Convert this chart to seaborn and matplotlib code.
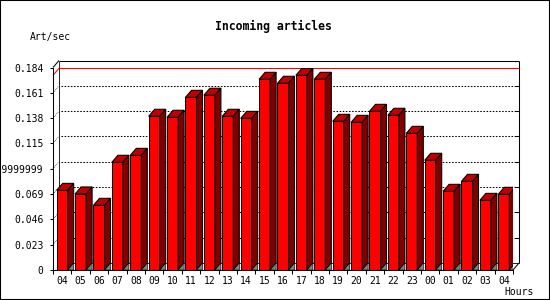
import matplotlib
matplotlib.use("Agg")
import matplotlib.pyplot as plt
from matplotlib.patches import Polygon, Rectangle
import numpy as np
import pandas as pd
import seaborn as sns

# ---------------- data ----------------
hours = ["04", "05", "06", "07", "08", "09", "10", "11", "12", "13", "14", "15",
         "16", "17", "18", "19", "20", "21", "22", "23", "00", "01", "02", "03", "04"]
rates = [0.0724, 0.0691, 0.0588, 0.0979, 0.1042, 0.1397, 0.1388, 0.1569, 0.1588,
         0.1397, 0.1378, 0.1733, 0.1697, 0.1769, 0.1733, 0.1351, 0.1342, 0.1442,
         0.1406, 0.1242, 0.0997, 0.0715, 0.0806, 0.0633, 0.0688]
y_ticks = [0, 0.023, 0.046, 0.069, 0.092, 0.115, 0.138, 0.161, 0.184]
y_tick_labels = ["0", "0.023", "0.046", "0.069", "0.0919999999", "0.115",
                 "0.138", "0.161", "0.184"]
title = "Incoming articles"
y_label = "Art/sec"
x_label = "Hours"

# ---------------- style ----------------
sns.set_theme(style="white")
plt.rcParams["font.family"] = ["DejaVu Sans Mono", "DejaVu Sans"]

W, H = 550, 300
DX_PX, DY_PX = 6.0, 7.0          # 3D depth offset in pixels
FRONT = "#ff0000"
TOP = "#c00000"
SIDE = "#800000"
FLOOR = "#808080"
LW = 0.75

fig = plt.figure(figsize=(W / 100, H / 100), dpi=100)
fig.patch.set_facecolor("white")
ax = fig.add_axes([53 / W, (H - 270) / H, 460 / W, (270 - 67.5) / H])
ax.set_facecolor("none")

df = pd.DataFrame({"slot": list(range(len(hours))), "rate": rates})
sns.barplot(data=df, x="slot", y="rate", color=FRONT, saturation=1, width=0.6,
            edgecolor="black", linewidth=LW, ax=ax, zorder=3)

ax.set_xlim(-0.5, len(hours) - 0.5)
ax.set_ylim(y_ticks[0], y_ticks[-1])
x0, x1 = ax.get_xlim()
y0, y1 = ax.get_ylim()

# depth offsets in data units
ddx = DX_PX / (ax.bbox.width / (x1 - x0))
ddy = DY_PX / (ax.bbox.height / (y1 - y0))

# ---------------- back plane / grid ----------------
def line(xs, ys, **kw):
    ax.plot(xs, ys, clip_on=False, solid_capstyle="butt", **kw)

# back box
line([x0 + ddx, x1 + ddx], [y1 + ddy, y1 + ddy], color="black", lw=LW, zorder=1)
line([x1 + ddx, x1 + ddx], [y0 + ddy, y1 + ddy], color="black", lw=LW, zorder=1)
line([x0 + ddx, x0 + ddx], [y0 + ddy, y1 + ddy], color="black", lw=LW * 0.8, zorder=1)
line([x0 + ddx, x1 + ddx], [y0 + ddy, y0 + ddy], color="black", lw=LW * 0.8, zorder=1)
# connecting diagonals
line([x0, x0 + ddx], [y1, y1 + ddy], color="black", lw=LW, zorder=1)
line([x1, x1 + ddx], [y0, y0 + ddy], color="black", lw=LW, zorder=1)

# dotted grid on the back plane
for yt in y_ticks[1:-1]:
    line([x0 + ddx + 0.1, x1 + ddx], [yt + ddy, yt + ddy], color="black", lw=LW,
         dashes=(1.5, 1.5), zorder=1)
    line([x0, x0 + ddx], [yt, yt + ddy], color="black", lw=LW * 0.7,
         dashes=(1.0, 1.5), zorder=1)
    line([x1 + ddx - 0.2, x1 + ddx], [yt + ddy, yt + ddy], color="black", lw=LW, zorder=1)

# red maximum line
vmax = max(rates)
line([x0 + ddx, x1 + ddx], [vmax + ddy, vmax + ddy], color="#ff0000", lw=LW, zorder=1)
line([x0, x0 + ddx], [vmax, vmax + ddy], color="#ff0000", lw=LW, zorder=1)

# ---------------- 3D faces of bars ----------------
for p in list(ax.patches):
    xl = p.get_x()
    xr = xl + p.get_width()
    h = p.get_height()
    top = Polygon([(xl, h), (xr, h), (xr + ddx, h + ddy), (xl + ddx, h + ddy)],
                  closed=True, facecolor=TOP, edgecolor="black", lw=LW, zorder=3)
    side = Polygon([(xr, 0), (xr, h), (xr + ddx, h + ddy), (xr + ddx, ddy)],
                   closed=True, facecolor=SIDE, edgecolor="black", lw=LW, zorder=3)
    floor = Polygon([(xr, 0), (xr + ddx, ddy), (xr + ddx, 0)],
                    closed=True, facecolor=FLOOR, edgecolor="black", lw=LW * 0.6, zorder=3)
    ax.add_patch(top)
    ax.add_patch(side)
    ax.add_patch(floor)

# ---------------- axes / ticks ----------------
for s in ["top", "right"]:
    ax.spines[s].set_visible(False)
for s in ["left", "bottom"]:
    ax.spines[s].set_color("black")
    ax.spines[s].set_linewidth(LW)
    ax.spines[s].set_zorder(4)

ax.set_yticks(y_ticks)
ax.set_yticklabels(y_tick_labels)
ax.set_xticks(list(range(len(hours))))
ax.set_xticklabels(hours)
ax.set_xticks(np.arange(x0, x1 + 0.01, 1.0), minor=True)
ax.tick_params(axis="y", left=True, direction="out", length=2.5, width=LW,
               color="black", pad=4.5, labelsize=7, labelcolor="black")
ax.tick_params(axis="x", which="major", bottom=True, length=0, pad=4.5,
               labelsize=7, labelcolor="black")
ax.tick_params(axis="x", which="minor", bottom=True, direction="out", length=3,
               width=LW, color="black")
ax.set_xlabel("")
ax.set_ylabel("")

# ---------------- texts ----------------
fig.text(273 / W, 1 - 26.7 / H, title, ha="center", va="center",
         fontsize=8.3, fontweight="bold", color="black")
fig.text(30 / W, 1 - 36.7 / H, y_label, ha="left", va="center", fontsize=7, color="black")
fig.text(504 / W, 1 - 292 / H, x_label, ha="left", va="center", fontsize=7, color="black")

# figure frame
fig.patches.append(Rectangle((0, 0), 1, 1, transform=fig.transFigure, fill=False,
                             edgecolor="black", lw=1.5, zorder=10))

fig.savefig("out.png", dpi=100, facecolor="white")
